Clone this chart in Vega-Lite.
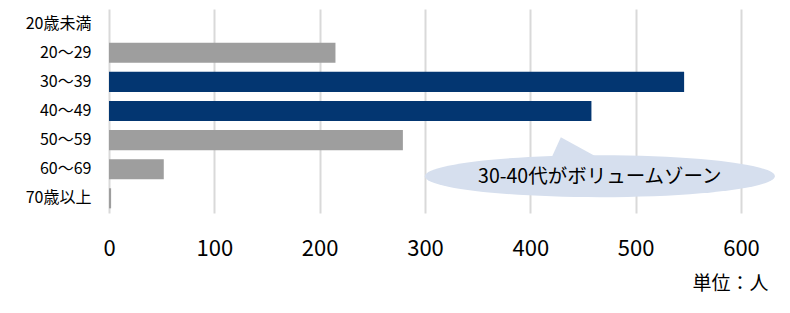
{
  "$schema": "https://vega.github.io/schema/vega-lite/v6.json",
  "autosize": "none",
  "padding": {"left": 109, "top": 9, "right": 49, "bottom": 100},
  "width": 632,
  "height": 204,
  "background": "white",
  "config": {
    "view": {"stroke": null},
    "font": "Noto Sans CJK JP"
  },
  "datasets": {
    "bars": [
      {"age": "20歳未満", "count": 0, "group": "other"},
      {"age": "20〜29", "count": 215, "group": "other"},
      {"age": "30〜39", "count": 546, "group": "main"},
      {"age": "40〜49", "count": 458, "group": "main"},
      {"age": "50〜59", "count": 279, "group": "other"},
      {"age": "60〜69", "count": 52, "group": "other"},
      {"age": "70歳以上", "count": 2, "group": "other"}
    ],
    "note": [
      {"age": "60〜69", "count": 466, "label": "30-40代がボリュームゾーン"}
    ]
  },
  "layer": [
    {
      "data": {"name": "bars"},
      "mark": {"type": "bar"},
      "encoding": {
        "y": {
          "field": "age", "type": "nominal", "sort": null,
          "scale": {
            "domain": ["20歳未満", "20〜29", "30〜39", "40〜49", "50〜59", "60〜69", "70歳以上"],
            "paddingInner": 0.31, "paddingOuter": 0.16
          },
          "axis": {
            "title": null, "domain": false, "ticks": false,
            "labelPadding": 18, "labelFontSize": 16, "labelColor": "#000000"
          }
        },
        "x": {
          "field": "count", "type": "quantitative",
          "scale": {"domain": [0, 600], "nice": false},
          "axis": {
            "values": [0, 100, 200, 300, 400, 500, 600],
            "domain": false, "ticks": false,
            "grid": true, "gridColor": "#d9d9d9", "gridWidth": 2,
            "labelFontSize": 22, "labelColor": "#000000", "labelPadding": 25,
            "labelFlush": false,
            "title": "単位：人", "titleFontSize": 19, "titleFontWeight": "normal",
            "titleColor": "#000000",
            "titleX": 659, "titleY": 70, "titleAlign": "right", "titleBaseline": "middle", "titleAngle": 0
          }
        },
        "color": {
          "field": "group", "type": "nominal",
          "scale": {"domain": ["main", "other"], "range": ["#033671", "#9e9e9e"]},
          "legend": null
        }
      }
    },
    {
      "data": {"name": "note"},
      "mark": {
        "type": "point", "filled": true, "opacity": 1, "color": "#d6dfee",
        "strokeWidth": 0, "yOffset": 7,
        "shape": "M -0.297 -0.06 L -0.223 -0.223 L 0.074 -0.06 Z",
        "size": 122500
      },
      "encoding": {
        "y": {"field": "age", "type": "nominal"},
        "x": {"field": "count", "type": "quantitative"}
      }
    },
    {
      "data": {"name": "note"},
      "mark": {
        "type": "point", "filled": true, "opacity": 1, "color": "#d6dfee",
        "strokeWidth": 0, "yOffset": 7,
        "shape": "M -1 0 C -1 -0.0663 -0.5523 -0.12 0 -0.12 C 0.5523 -0.12 1 -0.0663 1 0 C 1 0.0663 0.5523 0.12 0 0.12 C -0.5523 0.12 -1 0.0663 -1 0 Z",
        "size": 122500
      },
      "encoding": {
        "y": {"field": "age", "type": "nominal"},
        "x": {"field": "count", "type": "quantitative"}
      }
    },
    {
      "data": {"name": "note"},
      "mark": {
        "type": "text", "fontSize": 19.5, "color": "#000000",
        "align": "center", "baseline": "middle", "yOffset": 8
      },
      "encoding": {
        "y": {"field": "age", "type": "nominal"},
        "x": {"field": "count", "type": "quantitative"},
        "text": {"field": "label"}
      }
    }
  ]
}
